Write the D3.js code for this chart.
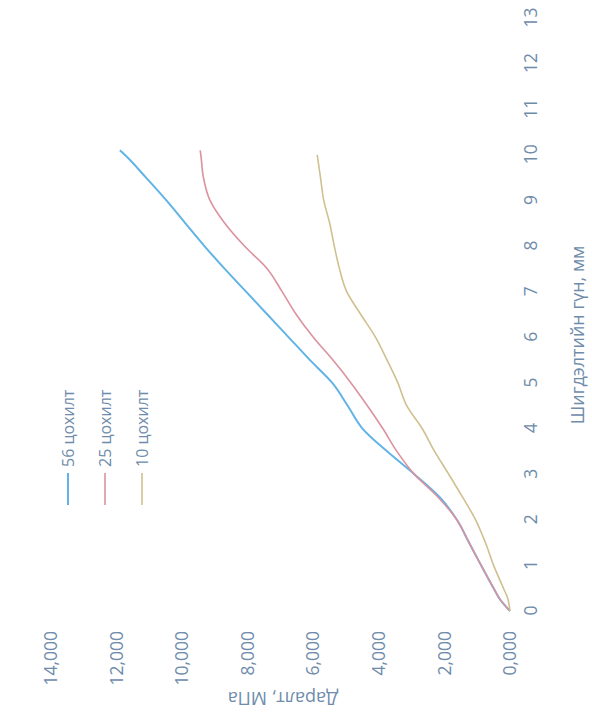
<!DOCTYPE html>
<html>
<head>
<meta charset="utf-8">
<script src="https://cdn.jsdelivr.net/npm/d3@7"></script>
<style>
  body { margin: 0; background: #ffffff; }
  svg { display: block; }
  text { font-family: "Open Sans", "Noto Sans", sans-serif; fill: #6f8cab; }
</style>
</head>
<body>
<svg id="chart" width="592" height="717"></svg>
<script>
// Penetration depth (mm) vs pressure (MPa) for three blow counts
const depthTicks = d3.range(0, 14);
const pressureTicks = [0, 2, 4, 6, 8, 10, 12, 14];
const seriesNames = ["56 цохилт", "25 цохилт", "10 цохилт"];
const seriesColors = ["#62b3e6", "#dc929d", "#cfc08f"];

const depth56 = [0, 0.25, 0.5, 1.0, 1.5, 2.0, 2.5, 3.0, 3.5, 4.0, 4.5, 5.0, 5.5, 6.0, 6.5, 7.0, 7.5, 8.0, 8.5, 9.0, 9.5, 10.0, 10.1];
const pressure56 = [0, 0.30, 0.50, 0.88, 1.25, 1.62, 2.15, 2.92, 3.75, 4.50, 4.95, 5.42, 6.10, 6.75, 7.40, 8.05, 8.70, 9.32, 9.90, 10.48, 11.10, 11.75, 11.90];

const depth25 = [0, 0.25, 0.5, 1.0, 1.5, 2.0, 2.5, 3.0, 3.5, 4.0, 4.5, 5.0, 5.5, 6.0, 6.5, 7.0, 7.5, 8.0, 8.5, 9.0, 9.5, 10.0, 10.1];
const pressure25 = [0, 0.30, 0.50, 0.88, 1.25, 1.62, 2.20, 2.92, 3.45, 3.88, 4.35, 4.85, 5.40, 6.00, 6.52, 6.95, 7.40, 8.10, 8.70, 9.15, 9.35, 9.43, 9.45];

const depth10 = [0, 0.3, 0.5, 1.0, 1.5, 2.0, 2.5, 3.0, 3.5, 4.0, 4.5, 5.0, 5.5, 6.0, 6.5, 7.0, 7.5, 8.0, 8.5, 9.0, 9.5, 10.0];
const pressure10 = [0, 0.08, 0.20, 0.50, 0.75, 1.05, 1.45, 1.87, 2.30, 2.68, 3.15, 3.42, 3.75, 4.10, 4.55, 4.98, 5.20, 5.36, 5.50, 5.68, 5.78, 5.88];

const series = [
  { name: seriesNames[0], color: seriesColors[0], width: 2.0, pts: d3.zip(depth56, pressure56) },
  { name: seriesNames[1], color: seriesColors[1], width: 1.6, pts: d3.zip(depth25, pressure25) },
  { name: seriesNames[2], color: seriesColors[2], width: 1.6, pts: d3.zip(depth10, pressure10) }
];

const W = 592, H = 717;
const svg = d3.select("#chart");

// The whole chart is laid out in its own frame and turned a quarter turn
// counter-clockwise: local u runs up the page, local v runs to the right.
const g = svg.append("g").attr("transform", `translate(0,${H}) rotate(-90)`);

const x = d3.scaleLinear().domain([0, 13]).range([106, 699]);   // depth -> u
const y = d3.scaleLinear().domain([0, 14]).range([510, 51]);    // pressure -> v

const fmt = d3.formatLocale({ decimal: ",", thousands: " ", grouping: [3], currency: ["", ""] }).format(".3f");

// Depth axis (tick labels only)
const xAxis = d3.axisBottom(x).tickValues(depthTicks).tickSize(0).tickPadding(0).tickFormat(d3.format("d"));
const gx = g.append("g").attr("transform", "translate(0,522)").call(xAxis);
gx.select(".domain").remove();
gx.selectAll("text")
  .attr("dy", "0.32em").attr("y", 9)
  .style("font-size", "17.5px").attr("fill", "#6f8cab");

// Pressure axis (tick labels only)
const yAxis = d3.axisLeft(y).tickValues(pressureTicks).tickSize(0).tickPadding(0).tickFormat(fmt);
const gy = g.append("g").attr("transform", "translate(86,0)").call(yAxis);
gy.select(".domain").remove();
gy.selectAll("text").style("font-size", "17.5px").attr("fill", "#6f8cab");

// Axis titles
g.append("text")
  .attr("x", 382).attr("y", 577)
  .attr("text-anchor", "middle").attr("dominant-baseline", "central")
  .style("font-size", "18px")
  .text("Шигдэлтийн гүн, мм");

g.append("text")
  .attr("transform", "translate(18,283) rotate(-90)")
  .attr("text-anchor", "middle").attr("dominant-baseline", "central")
  .style("font-size", "18px")
  .text("Даралт, МПа");

// Curves
const line = d3.line()
  .x(d => x(d[0]))
  .y(d => y(d[1]))
  .curve(d3.curveMonotoneX);

g.selectAll("path.series")
  .data(series)
  .join("path")
  .attr("class", "series")
  .attr("fill", "none")
  .attr("stroke", d => d.color)
  .attr("stroke-width", d => d.width)
  .attr("stroke-linejoin", "round")
  .attr("d", d => line(d.pts));

// Legend
const legend = g.append("g").attr("transform", "translate(212,68)");
const items = legend.selectAll("g.item")
  .data(series)
  .join("g")
  .attr("class", "item")
  .attr("transform", (d, i) => `translate(0,${i * 37})`);
items.append("line")
  .attr("x1", 0).attr("x2", 32).attr("y1", 0).attr("y2", 0)
  .attr("stroke", d => d.color).attr("stroke-width", d => d.width);
items.append("text")
  .attr("x", 38).attr("y", 0)
  .attr("dominant-baseline", "central")
  .style("font-size", "16px")
  .text(d => d.name);
</script>
</body>
</html>
